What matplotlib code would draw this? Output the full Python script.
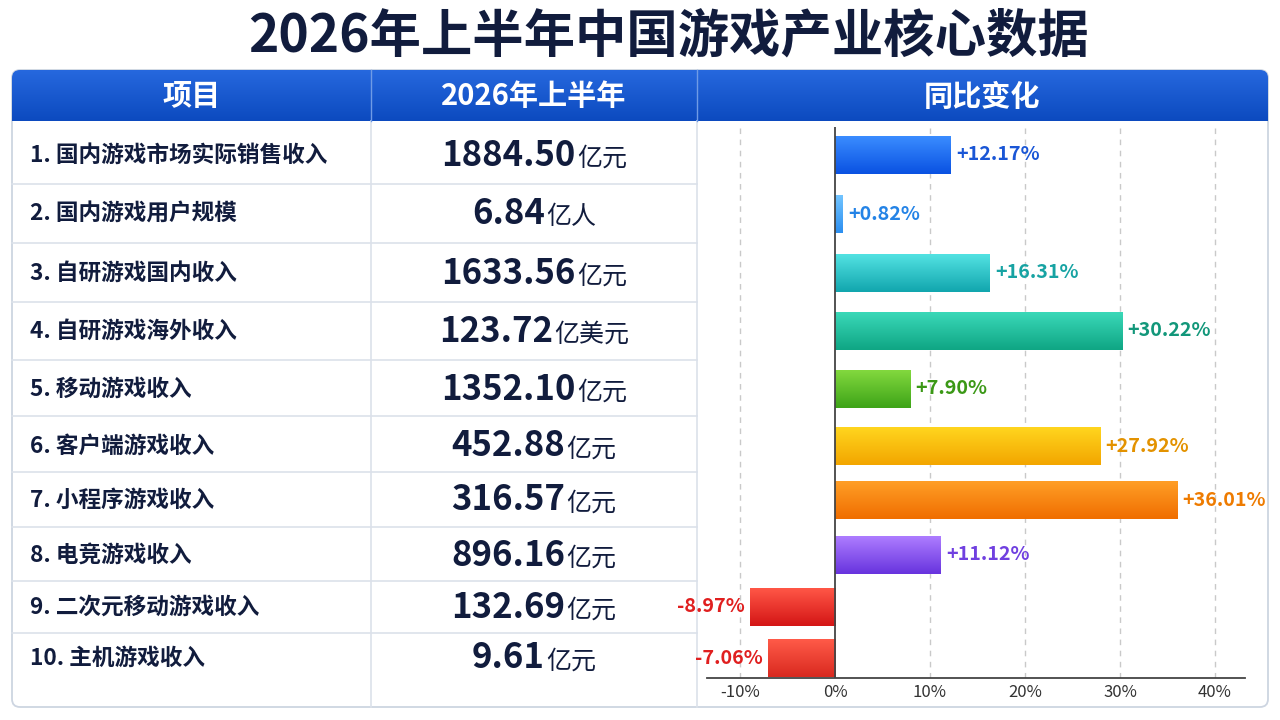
import numpy as np
import matplotlib
matplotlib.use("Agg")
import matplotlib.pyplot as plt
from matplotlib.patches import FancyBboxPatch
from matplotlib.colors import LinearSegmentedColormap
from matplotlib.offsetbox import TextArea, HPacker, AnnotationBbox

plt.rcParams['font.family'] = ['Noto Sans CJK SC', 'DejaVu Sans']

# data
title = "2026年上半年中国游戏产业核心数据"
headers = ["项目", "2026年上半年", "同比变化"]
items = ["1. 国内游戏市场实际销售收入", "2. 国内游戏用户规模", "3. 自研游戏国内收入",
         "4. 自研游戏海外收入", "5. 移动游戏收入", "6. 客户端游戏收入",
         "7. 小程序游戏收入", "8. 电竞游戏收入", "9. 二次元移动游戏收入", "10. 主机游戏收入"]
amounts = ["1884.50", "6.84", "1633.56", "123.72", "1352.10", "452.88",
           "316.57", "896.16", "132.69", "9.61"]
units = ["亿元", "亿人", "亿元", "亿美元", "亿元", "亿元", "亿元", "亿元", "亿元", "亿元"]
yoy = [12.17, 0.82, 16.31, 30.22, 7.90, 27.92, 36.01, 11.12, -8.97, -7.06]
xticks = [-10, 0, 10, 20, 30, 40]

# styles
bar_top = ["#3a8cff", "#72c4ff", "#52e2e2", "#3ad8b8", "#82d83e", "#ffd51e",
           "#ff9e26", "#ad7cff", "#ff5646", "#ff5a48"]
bar_bot = ["#0a52e2", "#2c8ff0", "#12a6ae", "#0fa684", "#3ea418", "#f3a600",
           "#f06e00", "#6834de", "#d41616", "#d92a20"]
lab_col = ["#1a56d6", "#2483e6", "#17a3a3", "#12977a", "#3b9816", "#e39200",
           "#ee7b00", "#7040e0", "#e01f1f", "#e01f1f"]
navy = "#111c3d"

# layout in pixels
row_mid = [155, 214, 273, 331, 389, 446, 500, 555, 607, 658]
row_lines = [184, 243, 302, 360, 416, 472, 527, 581, 633]
tx0, tx1, ty0, ty1 = 12, 1268, 70, 707
hy1 = 121
col1, col2 = 371, 697

fig = plt.figure(figsize=(12.8, 7.2), dpi=100)
fig.patch.set_facecolor("white")
bg = fig.add_axes([0, 0, 1, 1])
bg.set_xlim(0, 1280)
bg.set_ylim(720, 0)
bg.axis("off")

bg.text(669, 36, title, ha="center", va="center", fontsize=37,
        fontweight="bold", color=navy)

# table frame
frame = FancyBboxPatch((tx0, ty0), tx1 - tx0, ty1 - ty0,
                       boxstyle="round,pad=0,rounding_size=8",
                       fc="white", ec="#cdd5e1", lw=1.3, zorder=1)
bg.add_patch(frame)

# header with gradient
hdr_clip = FancyBboxPatch((tx0, ty0), tx1 - tx0, hy1 - ty0 + 10,
                          boxstyle="round,pad=0,rounding_size=8",
                          fc="none", ec="none")
bg.add_patch(hdr_clip)
hcm = LinearSegmentedColormap.from_list("hdr", ["#2668de", "#0c4abf"])
im = bg.imshow(np.linspace(0, 1, 60).reshape(-1, 1), cmap=hcm, aspect="auto",
               extent=(tx0, tx1, hy1, ty0), zorder=2)
im.set_clip_path(hdr_clip)
bg.set_xlim(0, 1280)
bg.set_ylim(720, 0)

hx = [(tx0 + col1) / 2, (col1 + col2) / 2, (col2 + tx1) / 2]
for x, h in zip(hx, headers):
    bg.text(x, (ty0 + hy1) / 2 + 1, h, ha="center", va="center", fontsize=21,
            fontweight="bold", color="white", zorder=3)

# grid lines of the table
for y in row_lines:
    bg.plot([tx0, col2], [y, y], color="#dbe1ea", lw=1.2, zorder=2)
for x in (col1, col2):
    bg.plot([x, x], [hy1, ty1], color="#dbe1ea", lw=1.2, zorder=2)
    bg.plot([x, x], [ty0, hy1], color="#6f9be6", lw=1.0, zorder=3)

# left columns
for y, name, amt, unit in zip(row_mid, items, amounts, units):
    bg.text(30, y, name, ha="left", va="center", fontsize=16.3,
            fontweight="bold", color=navy, zorder=3)
    t1 = TextArea(amt, textprops=dict(fontsize=25, fontweight="bold", color=navy))
    t2 = TextArea(unit, textprops=dict(fontsize=18, fontweight="medium", color=navy))
    box = HPacker(children=[t1, t2], align="baseline", pad=0, sep=1)
    ab = AnnotationBbox(box, (534, y), xycoords="data", box_alignment=(0.5, 0.5),
                        frameon=False, pad=0, zorder=3)
    bg.add_artist(ab)

# bar chart
ax_l, ax_r, ax_t, ax_b = 707, 1245, 127, 678
ax = fig.add_axes([ax_l / 1280, 1 - ax_b / 720, (ax_r - ax_l) / 1280, (ax_b - ax_t) / 720])
ax.patch.set_alpha(0)
x0_px, px_per = 835, 9.5
xmin = (ax_l - x0_px) / px_per
xmax = (ax_r - x0_px) / px_per

for t in xticks:
    if t != 0:
        ax.axvline(t, color="#c9c9c9", lw=1, ls=(0, (4, 4)), zorder=0)

bars = ax.barh(row_mid, yoy, height=38, color=bar_bot, zorder=2)
for b, ctop, cbot in zip(bars, bar_top, bar_bot):
    x0 = b.get_x()
    w = b.get_width()
    y0 = b.get_y()
    h = b.get_height()
    cm = LinearSegmentedColormap.from_list("g", [ctop, cbot])
    gi = ax.imshow(np.linspace(0, 1, 40).reshape(-1, 1), cmap=cm, aspect="auto",
                   extent=(x0, x0 + w, y0 + h, y0), zorder=3)
    gi.set_clip_path(b)

ax.axvline(0, color="#444444", lw=1.3, zorder=4)

for y, v, c in zip(row_mid, yoy, lab_col):
    if v >= 0:
        ax.text(v + 0.55, y, f"{v:+.2f}%", ha="left", va="center", fontsize=14.2,
                fontweight="bold", color=c, zorder=5)
    else:
        ax.text(v - 0.5, y, f"{v:+.2f}%", ha="right", va="center", fontsize=14.2,
                fontweight="bold", color=c, zorder=5)

ax.set_xlim(xmin, xmax)
ax.set_ylim(ax_b, ax_t)
ax.set_xticks(xticks)
ax.set_xticklabels([f"{t}%" for t in xticks])
ax.set_yticks([])
for s in ("top", "right", "left"):
    ax.spines[s].set_visible(False)
ax.spines["bottom"].set_color("#444444")
ax.spines["bottom"].set_linewidth(1.3)
ax.tick_params(axis="x", length=0, pad=4, labelsize=12, labelcolor="#333333")
for lab in ax.get_xticklabels():
    lab.set_fontweight("medium")

fig.savefig("out.png", dpi=100, facecolor="white")
